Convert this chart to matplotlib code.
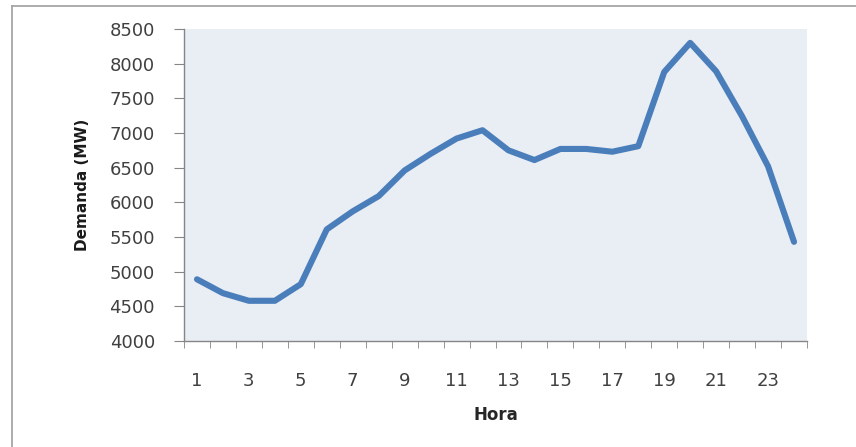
import numpy as np
import matplotlib.pyplot as plt
from matplotlib.lines import Line2D

# Demanda horaria (MW)
horas = np.arange(1, 25)
demanda = [4890, 4690, 4580, 4580, 4820, 5610, 5870, 6090, 6460, 6700, 6920, 7040,
           6750, 6610, 6770, 6770, 6730, 6810, 7880, 8300, 7890, 7240, 6520, 5430]
yticks = np.arange(4000, 8501, 500)
xlabels = [str(h) for h in horas[::2]]

fig = plt.figure(figsize=(8.56, 4.47), dpi=100)
ax = fig.add_axes([184 / 856, 1 - 341 / 447, 623 / 856, 312 / 447])

# marco exterior del grafico (solo borde superior e izquierdo visibles)
x0, y0 = 12 / 856, 1 - 6 / 447
fig.lines.append(Line2D([x0, 1.0], [y0, y0], transform=fig.transFigure,
                        color='#a6a6a6', linewidth=1.3))
fig.lines.append(Line2D([x0, x0], [0.0, y0], transform=fig.transFigure,
                        color='#a6a6a6', linewidth=1.3))

ax.set_facecolor('#e9edf4')
ax.plot(horas, demanda, color='#4a7ebb', linewidth=4.4, solid_joinstyle='round',
        solid_capstyle='round')

ax.set_xlim(0.5, 24.5)
ax.set_ylim(4000, 8500)
ax.set_yticks(yticks)
ax.set_xticks(horas[::2])
ax.set_xticklabels(xlabels)
ax.set_xticks(np.arange(0.5, 25, 1), minor=True)

for s in ['top', 'right']:
    ax.spines[s].set_visible(False)
for s in ['left', 'bottom']:
    ax.spines[s].set_color('#868686')
    ax.spines[s].set_linewidth(1.0)

ax.tick_params(axis='y', direction='out', length=7, color='#868686',
               labelsize=13, labelcolor='#404040', pad=14)
ax.tick_params(axis='x', which='major', length=0, labelsize=13,
               labelcolor='#404040', pad=22)
ax.tick_params(axis='x', which='minor', direction='out', length=5, color='#868686')

ax.set_xlabel('Hora', fontsize=12, fontweight='bold', color='#262626', labelpad=12)
ax.set_ylabel('Demanda (MW)', fontsize=11, fontweight='bold', color='#1a1a1a', labelpad=14)

fig.savefig('out.png', dpi=100)
